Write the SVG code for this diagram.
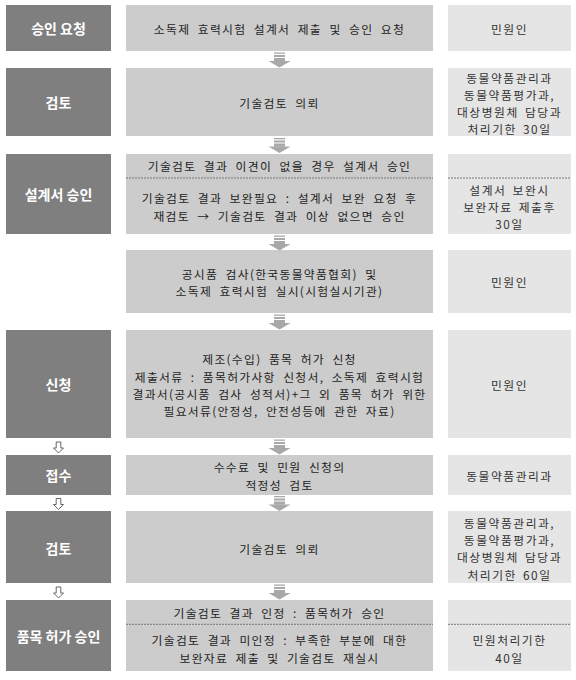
<svg xmlns="http://www.w3.org/2000/svg" xmlns:xlink="http://www.w3.org/1999/xlink" width="576" height="680" viewBox="0 0 576 680">
<style>
.L{fill:#7f7f7f}
.M{fill:#cccccc}
.R{fill:#e5e5e5}
.lt{font-family:"Noto Sans CJK KR","Noto Sans",sans-serif;font-size:14px;font-weight:bold;fill:#ffffff;text-anchor:middle;dominant-baseline:central}
.mt{font-family:"Noto Sans CJK KR","Noto Sans",sans-serif;font-size:11.8px;fill:#1e1e1e;text-anchor:middle;dominant-baseline:central;letter-spacing:1.3px;word-spacing:3.5px}
.rt{font-family:"Noto Sans CJK KR","Noto Sans",sans-serif;font-size:11.8px;fill:#333333;text-anchor:middle;dominant-baseline:central;letter-spacing:1.5px;word-spacing:2px}
.dash{stroke:#777777;stroke-width:1;stroke-dasharray:2 1;fill:none}
.ga{fill:#a8a8a8}
.ha{fill:#ffffff;stroke:#555555;stroke-width:0.9}
</style>
<defs>
<g id="grayArrow">
<rect class="ga" x="-5.5" y="0" width="11" height="1.3"/>
<rect class="ga" x="-5.5" y="2.5" width="11" height="2"/>
<rect class="ga" x="-5.5" y="5.5" width="11" height="3.2"/>
<polygon class="ga" points="-11,8.5 11,8.5 0,15"/>
</g>
<path id="hollowArrow" class="ha" d="M-2.3,0 H2.3 V6 H5 L0,11 L-5,6 H-2.3 Z"/>
</defs>

<g id="connectors">
<use xlink:href="#grayArrow" transform="translate(279.5,52.5)"/>
<use xlink:href="#grayArrow" transform="translate(279.5,138)"/>
<use xlink:href="#grayArrow" transform="translate(279.5,235.5)"/>
<use xlink:href="#grayArrow" transform="translate(279.5,314.5)"/>
<use xlink:href="#grayArrow" transform="translate(279.5,439.5)"/>
<use xlink:href="#grayArrow" transform="translate(279.5,496)"/>
<use xlink:href="#grayArrow" transform="translate(279.5,584.5)"/>
<use xlink:href="#hollowArrow" transform="translate(58.5,442)"/>
<use xlink:href="#hollowArrow" transform="translate(58.5,498.5)"/>
<use xlink:href="#hollowArrow" transform="translate(58.5,587)"/>
</g>

<!-- Row 1 -->
<g id="step1-label"><rect class="L" x="6" y="5" width="105" height="46"/><text class="lt" x="58.5" y="28">승인 요청</text></g>
<g id="step1-task"><rect class="M" x="126" y="5" width="307" height="46"/><text class="mt" x="279.5" y="28">소독제 효력시험 설계서 제출 및 승인 요청</text></g>
<g id="step1-actor"><rect class="R" x="448" y="5" width="123" height="46"/><text class="rt" x="509.5" y="28">민원인</text></g>

<!-- Row 2 -->
<g id="step2-label"><rect class="L" x="6" y="68" width="105" height="68"/><text class="lt" x="58.5" y="102">검토</text></g>
<g id="step2-task"><rect class="M" x="126" y="68" width="307" height="68"/><text class="mt" x="279.5" y="102">기술검토 의뢰</text></g>
<g id="step2-actor"><rect class="R" x="448" y="68" width="123" height="68"/>
<text class="rt"><tspan x="509.5" y="76.6">동물약품관리과</tspan><tspan x="509.5" y="93.8">동물약품평가과,</tspan><tspan x="509.5" y="111">대상병원체 담당과</tspan><tspan x="509.5" y="128.2">처리기한 30일</tspan></text></g>

<!-- Row 3 -->
<g id="step3-label"><rect class="L" x="6" y="154" width="105" height="80"/><text class="lt" x="58.5" y="194">설계서 승인</text></g>
<g id="step3-task"><rect class="M" x="126" y="154" width="307" height="80"/>
<line class="dash" x1="126" y1="178" x2="433" y2="178"/>
<text class="mt" x="279.5" y="165.5">기술검토 결과 이견이 없을 경우 설계서 승인</text>
<text class="mt"><tspan x="279.5" y="197.4">기술검토 결과 보완필요 : 설계서 보완 요청 후</tspan><tspan x="279.5" y="214.6">재검토 → 기술검토 결과 이상 없으면 승인</tspan></text></g>
<g id="step3-actor"><rect class="R" x="448" y="154" width="123" height="80"/>
<line class="dash" x1="448" y1="178" x2="571" y2="178"/>
<text class="rt"><tspan x="509.5" y="189">설계서 보완시</tspan><tspan x="509.5" y="206.2">보완자료 제출후</tspan><tspan x="509.5" y="223.4">30일</tspan></text></g>

<!-- Row 4 -->
<g id="step4-task"><rect class="M" x="126" y="250" width="307" height="63"/>
<text class="mt"><tspan x="279.5" y="273">공시품 검사(한국동물약품협회) 및</tspan><tspan x="279.5" y="290.2">소독제 효력시험 실시(시험실시기관)</tspan></text></g>
<g id="step4-actor"><rect class="R" x="448" y="250" width="123" height="63"/><text class="rt" x="509.5" y="281.5">민원인</text></g>

<!-- Row 5 -->
<g id="step5-label"><rect class="L" x="6" y="330" width="105" height="108"/><text class="lt" x="58.5" y="384">신청</text></g>
<g id="step5-task"><rect class="M" x="126" y="330" width="307" height="108"/>
<text class="mt"><tspan x="279.5" y="358.4">제조(수입) 품목 허가 신청</tspan><tspan x="279.5" y="375.6">제출서류 : 품목허가사항 신청서, 소독제 효력시험</tspan><tspan x="279.5" y="392.8">결과서(공시품 검사 성적서)+그 외 품목 허가 위한</tspan><tspan x="279.5" y="410">필요서류(안정성, 안전성등에 관한 자료)</tspan></text></g>
<g id="step5-actor"><rect class="R" x="448" y="330" width="123" height="108"/><text class="rt" x="509.5" y="384.5">민원인</text></g>

<!-- Row 6 -->
<g id="step6-label"><rect class="L" x="6" y="455" width="105" height="40"/><text class="lt" x="58.5" y="475">접수</text></g>
<g id="step6-task"><rect class="M" x="126" y="455" width="307" height="40"/>
<text class="mt"><tspan x="279.5" y="466.4">수수료 및 민원 신청의</tspan><tspan x="279.5" y="483.6">적정성 검토</tspan></text></g>
<g id="step6-actor"><rect class="R" x="448" y="455" width="123" height="40"/><text class="rt" x="509.5" y="475.5">동물약품관리과</text></g>

<!-- Row 7 -->
<g id="step7-label"><rect class="L" x="6" y="511" width="105" height="72"/><text class="lt" x="58.5" y="547.5">검토</text></g>
<g id="step7-task"><rect class="M" x="126" y="511" width="307" height="72"/><text class="mt" x="279.5" y="548">기술검토 의뢰</text></g>
<g id="step7-actor"><rect class="R" x="448" y="511" width="123" height="72"/>
<text class="rt"><tspan x="509.5" y="522">동물약품관리과,</tspan><tspan x="509.5" y="539.2">동물약품평가과,</tspan><tspan x="509.5" y="556.4">대상병원체 담당과</tspan><tspan x="509.5" y="573.6">처리기한 60일</tspan></text></g>

<!-- Row 8 -->
<g id="step8-label"><rect class="L" x="6" y="600" width="105" height="71"/><text class="lt" x="58.5" y="635.5">품목 허가 승인</text></g>
<g id="step8-task"><rect class="M" x="126" y="600" width="307" height="71"/>
<line class="dash" x1="126" y1="624.3" x2="433" y2="624.3"/>
<text class="mt" x="279.5" y="612.5">기술검토 결과 인정 : 품목허가 승인</text>
<text class="mt"><tspan x="279.5" y="639.4">기술검토 결과 미인정 : 부족한 부분에 대한</tspan><tspan x="279.5" y="656.6">보완자료 제출 및 기술검토 재실시</tspan></text></g>
<g id="step8-actor"><rect class="R" x="448" y="600" width="123" height="71"/>
<line class="dash" x1="448" y1="624.3" x2="571" y2="624.3"/>
<text class="rt"><tspan x="509.5" y="639.4">민원처리기한</tspan><tspan x="509.5" y="656.6">40일</tspan></text></g>
</svg>
